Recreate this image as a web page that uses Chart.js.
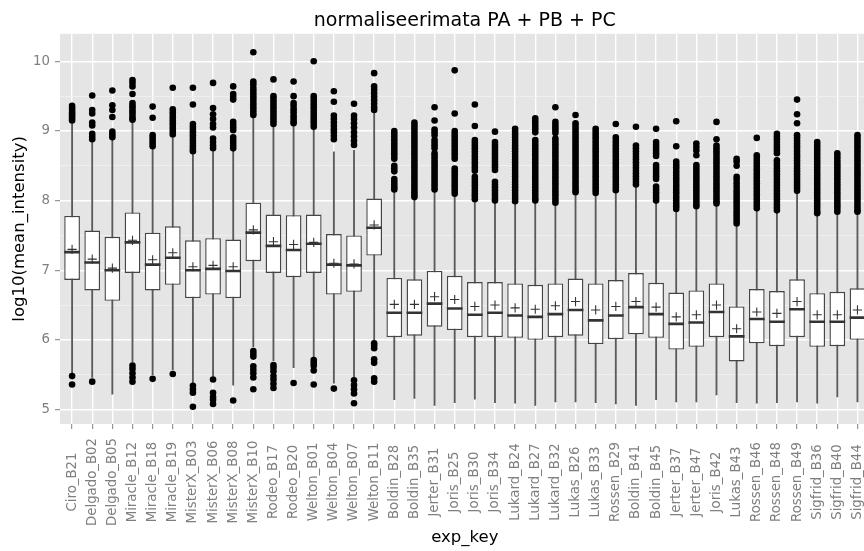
<!DOCTYPE html>
<html>
<head>
<meta charset="utf-8">
<script src="https://cdn.jsdelivr.net/npm/chart.js@4.4.1/dist/chart.umd.min.js"></script>
<style>
  html, body { margin: 0; padding: 0; background: #ffffff; overflow: hidden; }
  #wrap { width: 880px; height: 551px; }
  canvas { display: block; }
</style>
</head>
<body>
<div id="wrap"><canvas id="chart" width="880" height="551"></canvas></div>
<script>
// Experiment keys along the x axis
const categories = [
  'Ciro_B21', 'Delgado_B02', 'Delgado_B05', 'Miracle_B12', 'Miracle_B18', 'Miracle_B19',
  'MisterX_B03', 'MisterX_B06', 'MisterX_B08', 'MisterX_B10', 'Rodeo_B17', 'Rodeo_B20',
  'Welton_B01', 'Welton_B04', 'Welton_B07', 'Welton_B11', 'Boldin_B28', 'Boldin_B35',
  'Jerter_B31', 'Joris_B25', 'Joris_B30', 'Joris_B34', 'Lukard_B24', 'Lukard_B27',
  'Lukard_B32', 'Lukas_B26', 'Lukas_B33', 'Rossen_B29', 'Boldin_B41', 'Boldin_B45',
  'Jerter_B37', 'Jerter_B47', 'Joris_B42', 'Lukas_B43', 'Rossen_B46', 'Rossen_B48',
  'Rossen_B49', 'Sigfrid_B36', 'Sigfrid_B40', 'Sigfrid_B44'
];

// Box statistics of log10(mean_intensity)
const lowerQuartile = [
  6.86, 6.71, 6.56, 6.96, 6.71, 6.79, 6.60, 6.65, 6.60, 7.13, 6.96, 6.90, 6.96, 6.65, 6.69, 7.21,
  6.04, 6.06, 6.19, 6.14, 6.04, 6.04, 6.03, 6.00, 6.04, 6.06, 5.94, 6.01, 6.08, 6.03, 5.86, 5.90,
  6.04, 5.69, 5.95, 5.91, 6.04, 5.90, 5.91, 6.00
];
const medians = [
  7.26, 7.11, 7.00, 7.40, 7.08, 7.18, 7.00, 7.02, 6.99, 7.54, 7.35, 7.29, 7.38, 7.08, 7.07, 7.61,
  6.39, 6.39, 6.52, 6.45, 6.36, 6.39, 6.35, 6.33, 6.37, 6.43, 6.28, 6.35, 6.47, 6.37, 6.23, 6.25,
  6.40, 6.05, 6.30, 6.26, 6.44, 6.26, 6.26, 6.32
];
const upperQuartile = [
  7.78, 7.57, 7.48, 7.83, 7.54, 7.63, 7.43, 7.46, 7.44, 7.97, 7.80, 7.79, 7.80, 7.52, 7.50, 8.03,
  6.89, 6.87, 6.99, 6.92, 6.83, 6.83, 6.81, 6.79, 6.81, 6.88, 6.81, 6.86, 6.96, 6.82, 6.68, 6.71,
  6.81, 6.48, 6.73, 6.70, 6.87, 6.67, 6.69, 6.74
];
const means = [
  7.30, 7.16, 7.03, 7.43, 7.15, 7.25, 7.05, 7.07, 7.05, 7.58, 7.41, 7.37, 7.40, 7.10, 7.09, 7.65,
  6.51, 6.51, 6.62, 6.58, 6.48, 6.50, 6.46, 6.44, 6.49, 6.55, 6.43, 6.48, 6.55, 6.47, 6.33, 6.36,
  6.50, 6.16, 6.40, 6.38, 6.55, 6.36, 6.36, 6.43
];
const whiskerLow = [
  5.52, 5.46, 5.22, 5.68, 5.50, 5.57, 5.37, 5.48, 5.35, 5.90, 5.70, 5.60, 5.76, 5.38, 5.46, 6.00,
  5.14, 5.16, 5.06, 5.10, 5.15, 5.10, 5.09, 5.06, 5.11, 5.11, 5.10, 5.08, 5.06, 5.14, 5.11, 5.11,
  5.21, 5.10, 5.09, 5.10, 5.11, 5.09, 5.18, 5.11
];
const whiskerHigh = [
  9.12, 8.85, 8.87, 9.13, 8.74, 8.90, 8.68, 8.70, 8.71, 9.20, 9.06, 9.08, 9.02, 8.70, 8.72, 9.27,
  8.12, 8.03, 8.13, 8.07, 7.98, 7.97, 7.96, 7.97, 7.94, 8.08, 8.07, 8.12, 8.20, 7.96, 7.84, 7.89,
  7.93, 7.63, 7.86, 7.83, 8.10, 7.79, 7.81, 7.81
];

// Outlying values above the upper whisker, one list per experiment key
const upperOutliers = [
  [9.36, 9.33, 9.30, 9.27, 9.24, 9.21, 9.18, 9.15],
  [9.51, 9.30, 9.25, 9.12, 9.08, 8.96, 8.92, 8.88],
  [9.58, 9.37, 9.30, 9.20, 8.99, 8.95, 8.91],
  [9.73, 9.69, 9.64, 9.53, 9.40, 9.36, 9.33, 9.29, 9.26, 9.22, 9.18, 9.16],
  [9.35, 9.19, 8.94, 8.90, 8.86, 8.82, 8.78],
  [9.62, 9.31, 9.27, 9.23, 9.19, 9.15, 9.11, 9.07, 9.03, 8.99, 8.95],
  [9.62, 9.38, 9.10, 9.06, 9.02, 8.98, 8.94, 8.90, 8.86, 8.82, 8.78, 8.74, 8.71],
  [9.69, 9.33, 9.24, 9.17, 9.10, 9.05, 8.89, 8.84, 8.79, 8.75],
  [9.64, 9.53, 9.49, 9.45, 9.13, 9.09, 9.05, 9.01, 8.91, 8.87, 8.83, 8.79, 8.75],
  [10.13, 9.71, 9.67, 9.62, 9.58, 9.54, 9.50, 9.46, 9.42, 9.38, 9.34, 9.30, 9.26, 9.23],
  [9.74, 9.50, 9.46, 9.42, 9.38, 9.34, 9.30, 9.26, 9.22, 9.18, 9.14, 9.10],
  [9.71, 9.50, 9.40, 9.36, 9.31, 9.27, 9.22, 9.18, 9.14, 9.11],
  [10.00, 9.50, 9.46, 9.42, 9.38, 9.34, 9.30, 9.26, 9.22, 9.18, 9.14, 9.10, 9.06],
  [9.57, 9.42, 9.22, 9.17, 9.12, 9.07, 9.02, 8.98, 8.93, 8.88],
  [9.39, 9.22, 9.17, 9.11, 9.05, 8.98, 8.92, 8.86, 8.80],
  [9.83, 9.64, 9.59, 9.54, 9.49, 9.44, 9.39, 9.34, 9.30],
  [9.00, 8.96, 8.92, 8.88, 8.84, 8.80, 8.76, 8.72, 8.68, 8.64, 8.60, 8.50, 8.46, 8.42, 8.31, 8.27, 8.23, 8.19, 8.16],
  [9.12, 9.08, 9.04, 9.00, 8.96, 8.92, 8.88, 8.84, 8.80, 8.76, 8.72, 8.68, 8.64, 8.60, 8.56, 8.52, 8.48, 8.44, 8.40, 8.36, 8.32, 8.28, 8.24, 8.20, 8.16, 8.12, 8.08, 8.05],
  [9.34, 9.15, 9.02, 8.98, 8.94, 8.87, 8.83, 8.79, 8.75, 8.68, 8.64, 8.60, 8.56, 8.52, 8.48, 8.44, 8.40, 8.36, 8.32, 8.28, 8.24, 8.20, 8.16],
  [9.87, 9.25, 9.00, 8.96, 8.92, 8.88, 8.84, 8.80, 8.76, 8.72, 8.68, 8.64, 8.60, 8.46, 8.42, 8.38, 8.34, 8.30, 8.26, 8.22, 8.18, 8.14, 8.10],
  [9.38, 9.07, 8.87, 8.83, 8.79, 8.75, 8.71, 8.67, 8.63, 8.59, 8.55, 8.51, 8.47, 8.43, 8.34, 8.30, 8.26, 8.22, 8.18, 8.14, 8.10, 8.06, 8.02],
  [8.99, 8.84, 8.80, 8.76, 8.72, 8.68, 8.64, 8.60, 8.56, 8.52, 8.48, 8.44, 8.27, 8.23, 8.19, 8.15, 8.11, 8.07, 8.03, 8.00],
  [9.03, 8.99, 8.95, 8.91, 8.87, 8.83, 8.79, 8.75, 8.71, 8.67, 8.63, 8.59, 8.55, 8.51, 8.47, 8.43, 8.39, 8.35, 8.31, 8.27, 8.23, 8.19, 8.15, 8.11, 8.07, 8.03, 7.99],
  [9.18, 9.14, 9.10, 9.06, 9.02, 8.98, 8.87, 8.83, 8.79, 8.75, 8.71, 8.67, 8.63, 8.59, 8.55, 8.51, 8.47, 8.43, 8.39, 8.35, 8.31, 8.27, 8.23, 8.19, 8.15, 8.11, 8.07, 8.03, 8.00],
  [9.34, 9.13, 9.09, 9.05, 9.01, 8.97, 8.89, 8.85, 8.81, 8.77, 8.73, 8.69, 8.65, 8.61, 8.57, 8.53, 8.49, 8.45, 8.41, 8.37, 8.33, 8.29, 8.25, 8.21, 8.17, 8.13, 8.09, 8.05, 8.01, 7.97],
  [9.23, 9.11, 9.07, 9.03, 8.99, 8.95, 8.91, 8.87, 8.83, 8.79, 8.75, 8.71, 8.67, 8.63, 8.59, 8.55, 8.51, 8.47, 8.43, 8.39, 8.35, 8.31, 8.27, 8.23, 8.19, 8.15, 8.12],
  [9.03, 8.99, 8.95, 8.91, 8.87, 8.83, 8.79, 8.75, 8.71, 8.67, 8.63, 8.59, 8.55, 8.51, 8.47, 8.43, 8.39, 8.35, 8.31, 8.27, 8.23, 8.19, 8.15, 8.11],
  [9.10, 8.91, 8.87, 8.83, 8.79, 8.75, 8.71, 8.67, 8.63, 8.59, 8.55, 8.51, 8.47, 8.43, 8.39, 8.35, 8.31, 8.27, 8.23, 8.19, 8.15],
  [9.06, 8.79, 8.75, 8.71, 8.67, 8.63, 8.59, 8.55, 8.51, 8.47, 8.43, 8.39, 8.35, 8.31, 8.27, 8.23],
  [9.03, 8.84, 8.80, 8.76, 8.72, 8.68, 8.64, 8.51, 8.47, 8.43, 8.39, 8.35, 8.31, 8.20, 8.16, 8.12, 8.08, 8.04, 8.00],
  [9.14, 8.78, 8.56, 8.52, 8.48, 8.44, 8.40, 8.36, 8.32, 8.28, 8.24, 8.20, 8.16, 8.12, 8.08, 8.04, 8.00, 7.96, 7.92, 7.88],
  [8.82, 8.77, 8.72, 8.65, 8.51, 8.47, 8.43, 8.39, 8.35, 8.31, 8.27, 8.23, 8.19, 8.15, 8.11, 8.07, 8.03, 7.99, 7.95, 7.92],
  [9.13, 8.88, 8.79, 8.75, 8.71, 8.67, 8.63, 8.59, 8.55, 8.51, 8.47, 8.43, 8.39, 8.35, 8.31, 8.27, 8.23, 8.19, 8.15, 8.11, 8.07, 8.03, 7.99, 7.96],
  [8.60, 8.56, 8.50, 8.34, 8.30, 8.25, 8.20, 8.15, 8.11, 8.07, 8.03, 7.99, 7.95, 7.91, 7.87, 7.83, 7.79, 7.75, 7.71, 7.67],
  [8.90, 8.65, 8.61, 8.57, 8.53, 8.49, 8.45, 8.41, 8.37, 8.33, 8.29, 8.25, 8.21, 8.17, 8.13, 8.09, 8.05, 8.01, 7.97, 7.93, 7.89],
  [8.96, 8.92, 8.88, 8.84, 8.80, 8.76, 8.72, 8.68, 8.58, 8.54, 8.50, 8.46, 8.42, 8.38, 8.34, 8.30, 8.26, 8.22, 8.18, 8.14, 8.10, 8.06, 8.02, 7.98, 7.94, 7.90, 7.86],
  [9.45, 9.24, 9.11, 8.94, 8.90, 8.86, 8.82, 8.78, 8.74, 8.70, 8.66, 8.62, 8.58, 8.54, 8.50, 8.46, 8.42, 8.38, 8.34, 8.30, 8.26, 8.22, 8.18, 8.14],
  [8.84, 8.80, 8.76, 8.72, 8.68, 8.64, 8.60, 8.56, 8.52, 8.48, 8.44, 8.40, 8.36, 8.32, 8.28, 8.24, 8.20, 8.16, 8.12, 8.08, 8.04, 8.00, 7.96, 7.92, 7.88, 7.84, 7.82],
  [8.68, 8.64, 8.60, 8.56, 8.52, 8.48, 8.44, 8.40, 8.36, 8.32, 8.28, 8.24, 8.20, 8.16, 8.12, 8.08, 8.04, 8.00, 7.96, 7.92, 7.88, 7.84],
  [8.94, 8.90, 8.86, 8.82, 8.78, 8.74, 8.70, 8.66, 8.62, 8.58, 8.54, 8.50, 8.46, 8.42, 8.38, 8.34, 8.30, 8.26, 8.22, 8.18, 8.14, 8.10, 8.06, 8.02, 7.98, 7.94, 7.90, 7.86, 7.84]
];

// Outlying values below the lower whisker
const lowerOutliers = [
  [5.48, 5.36], [5.40], [], [5.63, 5.58, 5.52, 5.46, 5.40], [5.44], [5.51],
  [5.34, 5.29, 5.24, 5.04], [5.43, 5.24, 5.18, 5.14, 5.08], [5.13],
  [5.84, 5.80, 5.76, 5.62, 5.57, 5.52, 5.46, 5.29], [5.64, 5.60, 5.55, 5.48, 5.43, 5.37, 5.31],
  [5.38], [5.71, 5.67, 5.63, 5.56, 5.36], [5.30], [5.42, 5.35, 5.29, 5.23, 5.09],
  [5.95, 5.92, 5.88, 5.72, 5.67, 5.45, 5.40],
  [], [], [], [], [], [], [], [], [], [], [], [], [], [], [], [], [], [], [], [], [], [], [], []
];

// Y axis tick values (major on whole numbers, minor halfway)
const yTickValues = [5, 5.5, 6, 6.5, 7, 7.5, 8, 8.5, 9, 9.5, 10];
const yRange = [4.792, 10.395];

// ---------- build the datasets ----------
const boxData = categories.map((_, i) => ({ x: i, y: [lowerQuartile[i], upperQuartile[i]] }));
const whiskerData = categories.map((_, i) => ({ x: i, y: [whiskerLow[i], whiskerHigh[i]] }));
const medianPoints = categories.map((_, i) => ({ x: i, y: medians[i] }));
const meanPoints = categories.map((_, i) => ({ x: i, y: means[i] }));
const outlierPoints = [];
categories.forEach((_, i) => {
  upperOutliers[i].forEach(v => outlierPoints.push({ x: i, y: v }));
  lowerOutliers[i].forEach(v => outlierPoints.push({ x: i, y: v }));
});

const FONT = '"DejaVu Sans", sans-serif';
Chart.defaults.font.family = FONT;

// grey panel behind the grid
const panelBackground = {
  id: 'panelBackground',
  beforeDraw(chart) {
    const { ctx, chartArea: a } = chart;
    ctx.save();
    ctx.fillStyle = '#e5e5e5';
    ctx.fillRect(a.left, a.top, a.right - a.left, a.bottom - a.top);
    ctx.restore();
  }
};

// vertical category labels, centred under each tick
const verticalCategoryLabels = {
  id: 'verticalCategoryLabels',
  afterDraw(chart) {
    const { ctx } = chart;
    const x = chart.scales.x;
    ctx.save();
    ctx.font = '13.3px ' + FONT;
    ctx.fillStyle = '#7f7f7f';
    ctx.textAlign = 'center';
    ctx.textBaseline = 'middle';
    categories.forEach((name, i) => {
      ctx.save();
      ctx.translate(x.getPixelForValue(i), 482);
      ctx.rotate(-Math.PI / 2);
      ctx.fillText(name, 0, 0);
      ctx.restore();
    });
    ctx.restore();
  }
};

new Chart(document.getElementById('chart'), {
  type: 'bar',
  data: {
    datasets: [
      {
        type: 'scatter', label: 'outliers', data: outlierPoints, order: 0,
        pointStyle: 'circle', pointRadius: 3.3, pointBackgroundColor: '#000000',
        pointBorderWidth: 0
      },
      {
        type: 'scatter', label: 'mean', data: meanPoints, order: 1,
        pointStyle: 'cross', pointRadius: 4.6, pointBorderColor: '#333333',
        pointBorderWidth: 1.1
      },
      {
        type: 'scatter', label: 'median', data: medianPoints, order: 2,
        pointStyle: 'line', pointRadius: 7.85, pointBorderColor: '#333333',
        pointBorderWidth: 2.6
      },
      {
        type: 'bar', label: 'box', data: boxData, order: 3, grouped: false,
        categoryPercentage: 1, barPercentage: 0.78,
        backgroundColor: '#ffffff', borderColor: '#454545', borderWidth: 1.4,
        borderSkipped: false
      },
      {
        type: 'bar', label: 'whisker', data: whiskerData, order: 4, grouped: false,
        categoryPercentage: 1, barPercentage: 1, maxBarThickness: 1.2,
        backgroundColor: '#5a5a5a', borderWidth: 0
      }
    ]
  },
  options: {
    responsive: false,
    animation: false,
    devicePixelRatio: 1,
    events: [],
    layout: { padding: { left: 0, right: 9, top: 0, bottom: 0 } },
    plugins: {
      legend: { display: false },
      tooltip: { enabled: false },
      title: {
        display: true,
        text: 'normaliseerimata PA + PB + PC',
        color: '#000000',
        font: { family: FONT, size: 19, weight: 'normal' },
        padding: { top: 10, bottom: 1 },
        fullSize: false
      }
    },
    scales: {
      x: {
        type: 'linear',
        min: -0.6,
        max: categories.length - 0.4,
        offset: false,
        bounds: 'data',
        afterBuildTicks: axis => { axis.ticks = categories.map((_, i) => ({ value: i })); },
        afterFit: axis => { axis.height = 127; },
        ticks: { display: false },
        grid: {
          offset: false, color: '#ffffff', lineWidth: 1.4,
          drawTicks: true, tickLength: 5, tickColor: '#7f7f7f', tickWidth: 1
        },
        border: { display: false },
        title: {
          display: true, text: 'exp_key', color: '#000000',
          font: { family: FONT, size: 16.5 },
          padding: { top: 0, bottom: 3 }
        }
      },
      y: {
        type: 'linear',
        position: 'left',
        min: yRange[0],
        max: yRange[1],
        bounds: 'data',
        beginAtZero: false,
        afterBuildTicks: axis => { axis.ticks = yTickValues.map(v => ({ value: v })); },
        afterFit: axis => { axis.width = 60; },
        ticks: {
          color: '#7f7f7f',
          font: { family: FONT, size: 13.3 },
          padding: 5,
          autoSkip: false,
          callback: v => (Number.isInteger(v) ? String(v) : '')
        },
        grid: {
          color: c => (Number.isInteger(c.tick.value) ? '#ffffff' : '#f3f3f3'),
          lineWidth: c => (Number.isInteger(c.tick.value) ? 1.4 : 0.7),
          drawTicks: true,
          tickLength: 5,
          tickColor: c => (Number.isInteger(c.tick.value) ? '#7f7f7f' : 'rgba(0,0,0,0)'),
          tickWidth: 1
        },
        border: { display: false },
        title: {
          display: true, text: 'log10(mean_intensity)', color: '#000000',
          font: { family: FONT, size: 16.5 },
          padding: { top: 10, bottom: 0 }
        }
      }
    }
  },
  plugins: [panelBackground, verticalCategoryLabels]
});
</script>
</body>
</html>
